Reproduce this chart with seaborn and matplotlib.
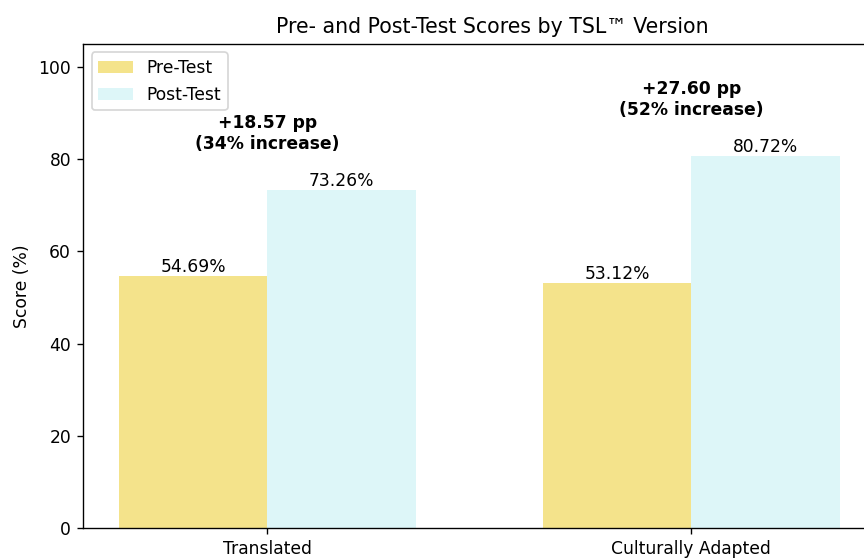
import pandas as pd
import seaborn as sns
from matplotlib import pyplot as plt

categories = ["Translated", "Culturally Adapted"]
pre_scores = [54.69, 53.12]
post_scores = [73.26, 80.72]
tests = ["Pre-Test", "Post-Test"]
colors = ["#F4E38B", "#DDF6F8"]

df = pd.DataFrame({
    "version": categories * 2,
    "test": [tests[0]] * len(categories) + [tests[1]] * len(categories),
    "score": pre_scores + post_scores,
})

dpi = 123
fig = plt.figure(figsize=(864 / dpi, 559 / dpi), dpi=dpi)
ax = fig.add_axes([0.0961, 0.0549, 0.9468, 0.8671])

sns.barplot(data=df, x="version", y="score", hue="test", hue_order=tests,
            palette=colors, width=0.7, saturation=1, linewidth=0,
            legend=False, ax=ax)

for cont in ax.containers:
    ax.bar_label(cont, fmt="%.2f%%", fontsize=10)

# improvement annotations above each pair
for i, (pre, post) in enumerate(zip(pre_scores, post_scores)):
    diff = post - pre
    pct = diff / pre * 100
    ax.text(i, max(pre, post) + 8, f"+{diff:.2f} pp\n({pct:.0f}% increase)",
            ha="center", va="bottom", fontweight="bold", fontsize=10)

ax.legend(ax.containers, tests, loc="upper left")
ax.set_xlim(-0.435, 1.495)
ax.set_ylim(0, 105)
ax.set_xlabel("")
ax.set_ylabel("Score (%)")
ax.set_title("Pre- and Post-Test Scores by TSL™ Version")

fig.savefig("out.png", dpi=dpi)
